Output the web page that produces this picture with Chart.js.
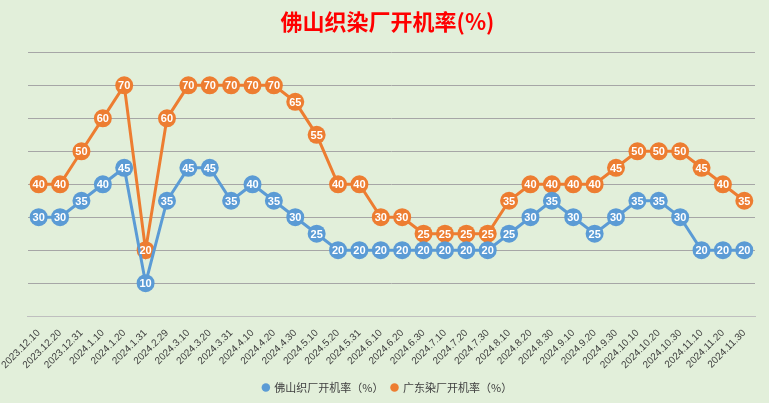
<!DOCTYPE html>
<html><head><meta charset="utf-8">
<script src="https://cdn.jsdelivr.net/npm/chart.js@4"></script>
<style>
html,body{margin:0;padding:0;background:#e2efda;}
#wrap{width:769px;height:403px;position:relative;}
</style></head>
<body><div id="wrap"><canvas id="c"></canvas></div>
<script>
const labels = ['2023.12.10','2023.12.20','2023.12.31','2024.1.10','2024.1.20','2024.1.31','2024.2.29','2024.3.10','2024.3.20','2024.3.31','2024.4.10','2024.4.20','2024.4.30','2024.5.10','2024.5.20','2024.5.31','2024.6.10','2024.6.20','2024.6.30','2024.7.10','2024.7.20','2024.7.30','2024.8.10','2024.8.20','2024.8.30','2024.9.10','2024.9.20','2024.9.30','2024.10.10','2024.10.20','2024.10.30','2024.11.10','2024.11.20','2024.11.30']
const foshan = [30,30,35,40,45,10,35,45,45,35,40,35,30,25,20,20,20,20,20,20,20,20,25,30,35,30,25,30,35,35,30,20,20,20]
const guangdong = [40,40,50,60,70,20,60,70,70,70,70,70,65,55,40,40,30,30,25,25,25,25,35,40,40,40,40,45,50,50,50,45,40,35]

const blue = '#5b9bd5', orange = '#ed7d31'

// numbers drawn inside the markers
const pointText = {
  id: 'pointText',
  afterDatasetsDraw(chart) {
    const ctx = chart.ctx
    ctx.save()
    ctx.fillStyle = '#fff'
    ctx.font = 'bold 11px "Liberation Sans", Arial'
    ctx.textAlign = 'center'
    ctx.textBaseline = 'middle'
    chart.data.datasets.forEach((ds, i) => {
      chart.getDatasetMeta(i).data.forEach((pt, j) => {
        ctx.fillText(ds.data[j], pt.x, pt.y + 1)
      })
    })
    ctx.restore()
  }
}

new Chart(document.getElementById('c'), {
  type: 'line',
  data: {
    labels: labels,
    datasets: [
      { label: '佛山织厂开机率（%）', data: foshan, borderColor: blue, backgroundColor: blue,
        borderWidth: 3, pointRadius: 9, pointHoverRadius: 9, pointBorderWidth: 0 },
      { label: '广东染厂开机率（%）', data: guangdong, borderColor: orange, backgroundColor: orange,
        borderWidth: 3, pointRadius: 9, pointHoverRadius: 9, pointBorderWidth: 0 }
    ]
  },
  options: {
    responsive: true,
    maintainAspectRatio: false,
    animation: false,
    layout: { padding: { left: 20, right: 14, top: 0, bottom: 0 } },
    scales: {
      x: {
        offset: true,
        grid: { display: false },
        border: { color: '#bfbfbf' },
        ticks: { autoSkip: false, maxRotation: 45, minRotation: 45, color: '#404040',
                 font: { size: 10, family: '"Liberation Sans", Arial' } }
      },
      y: {
        min: 0, max: 80,
        ticks: { display: false, stepSize: 10 },
        grid: { color: '#a6a6a6', drawTicks: false },
        border: { display: false }
      }
    },
    plugins: {
      title: { display: true, text: '佛山织染厂开机率(%)', color: '#ff0000',
               font: { size: 22, weight: 'bold', family: '"Noto Sans CJK SC"' }, padding: { top: 8, bottom: 18 } },
      legend: { position: 'bottom', labels: { usePointStyle: true, pointStyle: 'circle', boxWidth: 6, boxHeight: 6,
               padding: 8, color: '#404040', font: { size: 11, family: '"Noto Sans CJK SC"' } } },
      tooltip: { enabled: false }
    }
  },
  plugins: [pointText]
})
</script></body></html>
